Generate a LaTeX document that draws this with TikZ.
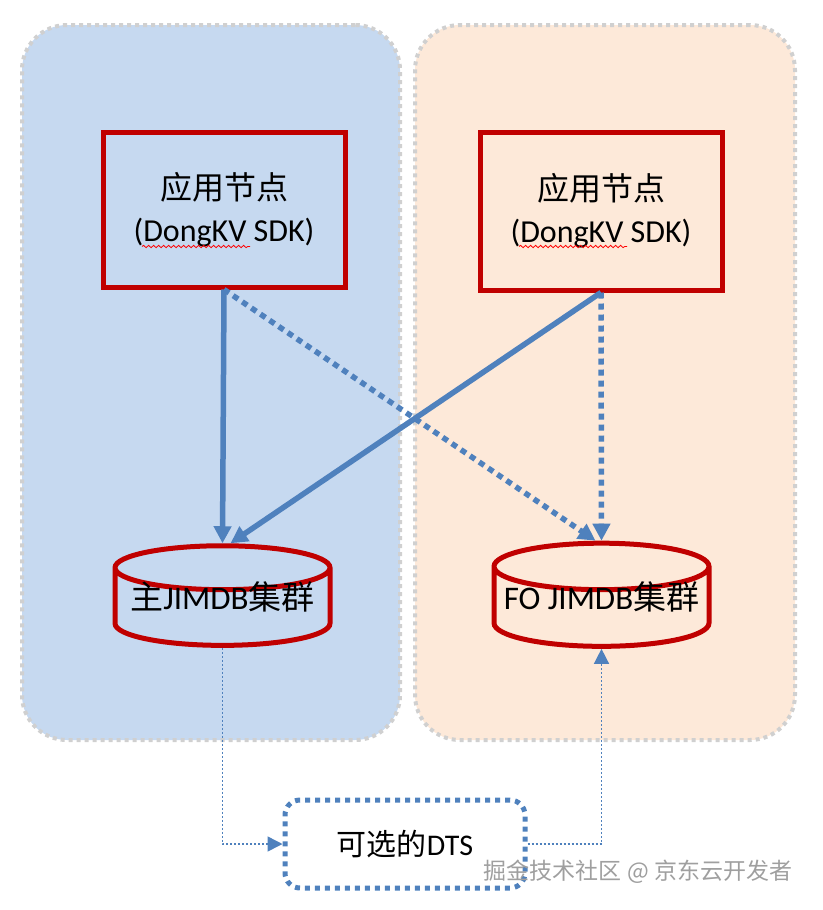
\documentclass[tikz,border=0pt]{standalone}
\usepackage{fontspec}
\setmainfont{Carlito}
\newfontfamily\cjk{Noto Sans CJK SC}
\usetikzlibrary{shapes.geometric,arrows.meta,decorations.pathmorphing}
\definecolor{sitefill}{HTML}{C6D9F0}
\definecolor{fofill}{HTML}{FDE9D9}
\definecolor{rimgray}{HTML}{D0D0D0}
\definecolor{nodered}{HTML}{C00000}
\definecolor{flowblue}{HTML}{4F81BD}
\begin{document}
\begin{tikzpicture}[x=1pt,y=-1pt,
  site/.style={draw=rimgray,line width=4pt,dash pattern=on 4pt off 4pt,rounded corners=45pt,
    minimum width=378pt,minimum height=715pt},
  appnode/.style={draw=nodered,line width=5pt,minimum width=242pt,minimum height=155pt,
    align=center,font=\fontsize{32}{42}\selectfont},
  store/.style={cylinder,shape border rotate=90,draw=nodered,line width=5pt,aspect=0.23,
    minimum width=215pt,minimum height=90pt,text height=14pt,text depth=16pt,
    font=\fontsize{33}{38}\selectfont},
  dtsbox/.style={draw=flowblue,line width=5pt,dash pattern=on 5pt off 5pt,rounded corners=15pt,
    minimum width=240pt,minimum height=88pt,font=\fontsize{30}{34}\selectfont},
  call/.style={draw=flowblue,line width=5.5pt,-{Triangle[length=17pt,width=17pt]}},
  sync/.style={draw=flowblue,line width=1.5pt,dash pattern=on 2pt off 2pt,-{Triangle[length=15pt,width=15pt]}},
  squig/.style={draw=red,line width=0.8pt,decorate,decoration={snake,amplitude=1.2pt,segment length=5pt}}]
  \useasboundingbox (0,0) rectangle (822,910);
  % two sites
  \node[site,fill=sitefill] (siteL) at (211,382.5) {};
  \node[site,fill=fofill,minimum width=380pt] (siteR) at (605,382.5) {};
  % application nodes
  \node[appnode] (appL) at (224,209.5) {{\cjk 应用节点}\\(DongKV SDK)};
  \node[appnode,minimum height=158pt] (appR) at (601,211) {{\cjk 应用节点}\\(DongKV SDK)};
  \draw[squig] ([shift={(-82,37)}]appL.center) -- ++(108,0);
  \draw[squig] ([shift={(-82,35.5)}]appR.center) -- ++(108,0);
  % clusters
  \node[store] (dbL) at (222.5,610.5) {{\cjk 主}JIMDB{\cjk 集群}};
  \node[store] (dbR) at (601.5,610.5) {FO JIMDB{\cjk 集群}};
  % optional DTS
  \node[dtsbox] (dts) at (405,844) {{\cjk 可选的}DTS};
  \node[text=gray!75,font=\cjk\fontsize{23}{28}\selectfont] (mark) at (638,872) {掘金技术社区 @ 京东云开发者};
  \path
    (appL.south) edge[call] (dbL.north)
    (appR.south) edge[call] ([xshift=8pt]dbL.north)
    (appL.south) edge[call,dash pattern=on 6pt off 5pt] ([xshift=-6pt]dbR.north)
    (appR.south) edge[call,dash pattern=on 6pt off 5pt] (dbR.north);
  \draw[sync] (dbL.south) |- (dts.west);
  \draw[sync] (dts.east) -| (dbR.south);
\end{tikzpicture}
\end{document}
